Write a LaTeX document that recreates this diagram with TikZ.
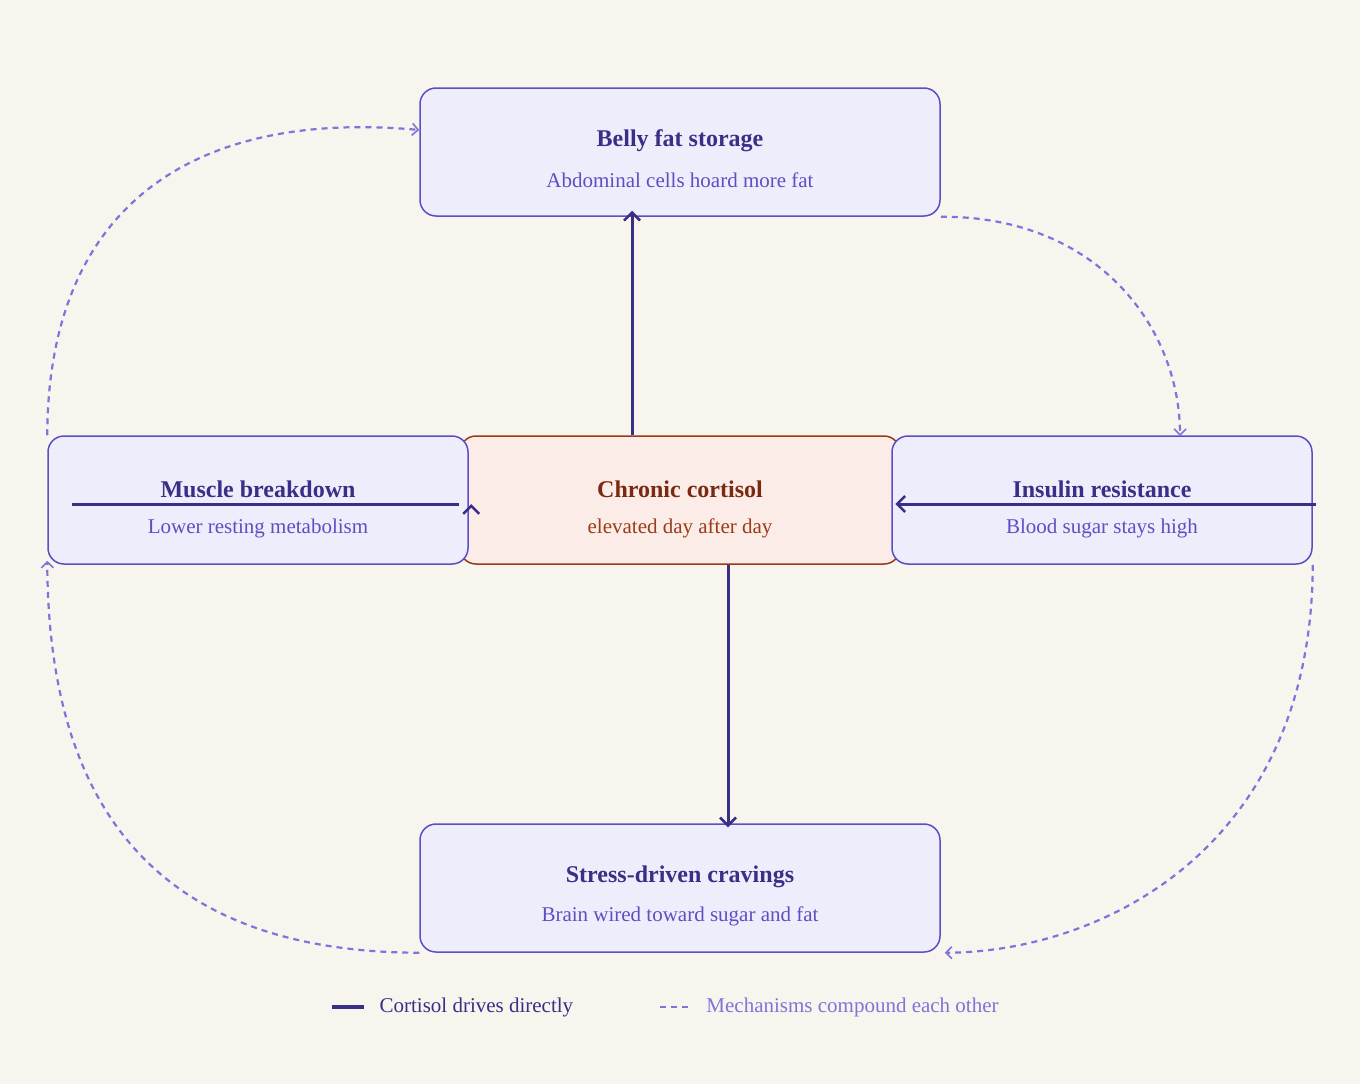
\documentclass[tikz,border=0pt]{standalone}
\usepackage{fontspec}
\setmainfont{Liberation Serif}
\usetikzlibrary{arrows.meta}
\definecolor{bgc}{HTML}{F8F5EE}
\definecolor{boxfill}{HTML}{EEEDFB}
\definecolor{boxline}{HTML}{5B4FC4}
\definecolor{boxtitle}{HTML}{3A2F86}
\definecolor{hotfill}{HTML}{FBECE7}
\definecolor{hotline}{HTML}{9A3B1A}
\definecolor{hottitle}{HTML}{7A2A10}
\definecolor{loopc}{HTML}{8073DB}
\begin{document}
\begin{tikzpicture}[x=1pt,y=-1pt,
  box/.style={draw=boxline, fill=boxfill, line width=1.5pt, rounded corners=16pt,
              minimum width=520pt, minimum height=128pt, align=center},
  hot/.style={draw=hotline, fill=hotfill, line width=1.5pt, rounded corners=16pt,
              minimum width=440pt, minimum height=128pt, align=center},
  drive/.style={draw=boxtitle, line width=3pt, -{Straight Barb[length=8pt,width=16pt,line width=2.5pt]}},
  loop/.style={draw=loopc, line width=2.2pt, dash pattern=on 6pt off 5pt,
               -{Straight Barb[length=6pt,width=12pt,line width=1.6pt]}}]
  \fill[bgc] (0,0) rectangle (1360,1084);
  \useasboundingbox (0,0) rectangle (1360,1084);

  % nodes
  \node[hot] (cortisol) at (680,500) {};
  \node[box, minimum width=420pt] (muscle) at (258,500) {};
  \node[box, minimum width=420pt] (insulin) at (1102,500) {};
  \node[box] (belly) at (680,152) {};
  \node[box] (crave) at (680,888) {};

  \node[text=hottitle, font=\fontsize{24}{28}\selectfont\bfseries] at (680,489) {Chronic cortisol};
  \node[text=hotline, font=\fontsize{21}{25}\selectfont] at (680,528) {elevated day after day};
  \node[text=boxtitle, font=\fontsize{24}{28}\selectfont\bfseries] at (680,141) {Belly fat storage};
  \node[text=boxline, font=\fontsize{21}{25}\selectfont] at (680,180) {Abdominal cells hoard more fat};
  \node[text=boxtitle, font=\fontsize{24}{28}\selectfont\bfseries] at (258,489) {Muscle breakdown};
  \node[text=boxline, font=\fontsize{21}{25}\selectfont] at (258,528) {Lower resting metabolism};
  \node[text=boxtitle, font=\fontsize{24}{28}\selectfont\bfseries] at (1102,489) {Insulin resistance};
  \node[text=boxline, font=\fontsize{21}{25}\selectfont] at (1102,528) {Blood sugar stays high};
  \node[text=boxtitle, font=\fontsize{24}{28}\selectfont\bfseries] at (680,877) {Stress-driven cravings};
  \node[text=boxline, font=\fontsize{21}{25}\selectfont] at (680,916) {Brain wired toward sugar and fat};

  % direct drives
  \coordinate (mstart) at (72,504);
  \coordinate (istart) at (1316,504);
  \draw[drive] (cortisol.north -| 632,0) -- ([yshift=6pt]belly.south -| 632,0);
  \draw[drive] (cortisol.south -| 728,0) -- ([yshift=-4pt]crave.north -| 728,0);
  \draw[drive] (mstart) -- (cortisol.west |- mstart) ++(12,0);
  \draw[drive] (istart) -- ([xshift=4pt]insulin.west |- istart);

  % feedback loops
  \draw[loop] (muscle.north west) ++(0,0) .. controls (48,200) and (200,110) .. (belly.west |- 0,130);
  \draw[loop] (belly.south east) .. controls (1100,216) and (1180,330) .. (1180,436);
  \draw[loop] (insulin.south east) .. controls (1312,850) and (1100,952) .. ([xshift=4pt]crave.south east);
  \draw[loop] (crave.south west) .. controls (150,952) and (48,800) .. ([yshift=4pt]muscle.south west);

  % legend
  \draw[draw=boxtitle, line width=4.5pt] (332,1007) -- (364,1007) node[right=10pt, text=boxtitle, font=\fontsize{21}{25}\selectfont] (leg1) {Cortisol drives directly};
  \draw[draw=loopc, line width=2.2pt, dash pattern=on 6pt off 5pt] (660,1007) -- (692,1007) node[right=10pt, text=loopc, font=\fontsize{21}{25}\selectfont] (leg2) {Mechanisms compound each other};
\end{tikzpicture}
\end{document}
